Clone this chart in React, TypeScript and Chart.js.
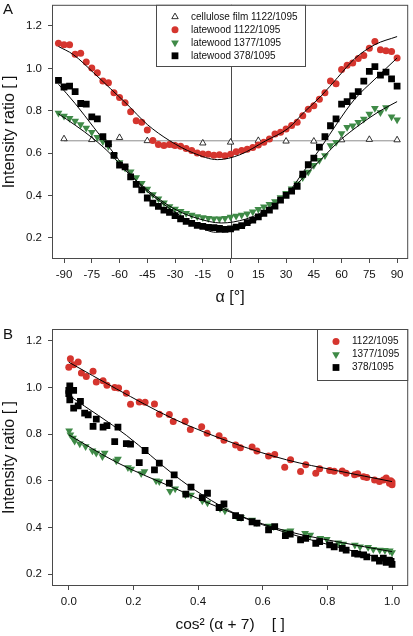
import React, { useEffect, useRef } from 'react';
import { Chart, registerables } from 'chart.js';

Chart.register(...registerables);

// ---------------- Panel A data ----------------
const ANGLES_A = [-93, -90, -87, -84, -81, -78, -75, -72, -69, -66, -63, -60, -57, -54, -51, -48, -45, -42, -39, -36, -33, -30, -27, -24, -21, -18, -15, -12, -9, -6, -3, 0, 3, 6, 9, 12, 15, 18, 21, 24, 27, 30, 33, 36, 39, 42, 45, 48, 51, 54, 57, 60, 63, 66, 69, 72, 75, 78, 81, 84, 87, 90];
const LW_1122_A = [1.119, 1.111, 1.111, 1.067, 1.071, 1.030, 1.002, 0.979, 0.940, 0.932, 0.885, 0.862, 0.838, 0.795, 0.753, 0.745, 0.709, 0.659, 0.641, 0.636, 0.641, 0.636, 0.632, 0.622, 0.612, 0.600, 0.596, 0.594, 0.590, 0.592, 0.588, 0.595, 0.606, 0.612, 0.618, 0.626, 0.638, 0.651, 0.667, 0.690, 0.698, 0.714, 0.730, 0.745, 0.776, 0.807, 0.823, 0.854, 0.885, 0.940, 0.927, 0.994, 1.015, 1.025, 1.046, 1.061, 1.095, 1.127, 1.088, 1.083, 1.080, 1.049];
const LW_1377_A = [0.789, 0.775, 0.765, 0.752, 0.735, 0.718, 0.698, 0.675, 0.655, 0.632, 0.590, 0.555, 0.530, 0.512, 0.485, 0.458, 0.430, 0.405, 0.385, 0.365, 0.348, 0.336, 0.326, 0.316, 0.308, 0.301, 0.296, 0.292, 0.290, 0.290, 0.292, 0.298, 0.303, 0.308, 0.314, 0.323, 0.335, 0.347, 0.358, 0.372, 0.390, 0.410, 0.432, 0.455, 0.485, 0.511, 0.543, 0.566, 0.589, 0.636, 0.651, 0.693, 0.722, 0.729, 0.745, 0.761, 0.784, 0.812, 0.792, 0.815, 0.771, 0.757];
const LW_378_A = [0.943, 0.912, 0.916, 0.890, 0.834, 0.831, 0.771, 0.761, 0.678, 0.644, 0.589, 0.543, 0.535, 0.488, 0.452, 0.426, 0.388, 0.364, 0.348, 0.331, 0.320, 0.305, 0.290, 0.278, 0.268, 0.259, 0.254, 0.249, 0.248, 0.244, 0.240, 0.242, 0.250, 0.258, 0.272, 0.284, 0.299, 0.316, 0.331, 0.350, 0.378, 0.400, 0.420, 0.443, 0.500, 0.545, 0.576, 0.628, 0.678, 0.729, 0.761, 0.831, 0.843, 0.870, 0.890, 0.940, 0.986, 1.008, 0.968, 0.982, 0.950, 0.916];
const CELL_ANGLES = [-90, -75, -60, -45, -30, -15, 0, 15, 30, 45, 60, 75, 90];
const CELL_1122 = [0.667, 0.663, 0.673, 0.658, 0.635, 0.647, 0.651, 0.659, 0.656, 0.656, 0.662, 0.664, 0.662];
const CELL_FIT_ANGLES = [-90, 90];
const CELL_FIT = [0.658, 0.658];
const FIT_1122_ANGLES = [-93, -85, -74, -65, -56, -45, -33, -20, -7, 5, 19, 31, 40, 49, 58, 67, 78, 90];
const FIT_1122_A = [1.103, 1.065, 0.979, 0.905, 0.831, 0.735, 0.659, 0.600, 0.569, 0.592, 0.658, 0.716, 0.795, 0.870, 0.958, 1.045, 1.112, 1.150];
const FIT_1377_ANGLES = [-93, -84, -74, -65, -56, -47, -38, -29, -18, -5, 8, 18, 27, 35, 42, 50, 59, 70, 80, 90];
const FIT_1377_A = [0.785, 0.732, 0.667, 0.597, 0.511, 0.441, 0.379, 0.330, 0.292, 0.270, 0.288, 0.325, 0.378, 0.445, 0.510, 0.580, 0.659, 0.735, 0.795, 0.843];
const FIT_378_ANGLES = [-93, -84, -74, -65, -56, -47, -38, -29, -18, -8, 5, 15, 24, 31, 40, 49, 58, 67, 78, 90];
const FIT_378_A = [0.925, 0.834, 0.722, 0.621, 0.519, 0.434, 0.371, 0.315, 0.258, 0.226, 0.245, 0.290, 0.350, 0.410, 0.520, 0.628, 0.746, 0.854, 0.949, 1.049];
const TICKS_A_X = [-90, -75, -60, -45, -30, -15, 0, 15, 30, 45, 60, 75, 90];
const TICKS_Y = [0.2, 0.4, 0.6, 0.8, 1.0, 1.2];

// ---------------- Panel B data ----------------
const B_1122_X = [0.000, 0.005, 0.015, 0.029, 0.039, 0.054, 0.075, 0.085, 0.106, 0.118, 0.142, 0.154, 0.178, 0.191, 0.218, 0.236, 0.265, 0.280, 0.311, 0.323, 0.360, 0.376, 0.411, 0.428, 0.465, 0.480, 0.516, 0.531, 0.567, 0.582, 0.618, 0.637, 0.668, 0.686, 0.717, 0.733, 0.764, 0.776, 0.807, 0.821, 0.846, 0.858, 0.884, 0.894, 0.912, 0.922, 0.946, 0.961, 0.973, 0.982, 0.992, 1.000, 1.000, 0.996];
const B_1122_Y = [1.086, 1.123, 1.097, 1.109, 1.062, 1.047, 1.069, 1.023, 1.029, 1.009, 1.000, 0.997, 0.975, 0.928, 0.938, 0.937, 0.929, 0.885, 0.884, 0.854, 0.855, 0.820, 0.832, 0.804, 0.793, 0.774, 0.754, 0.742, 0.745, 0.728, 0.706, 0.713, 0.658, 0.690, 0.640, 0.669, 0.633, 0.652, 0.644, 0.641, 0.642, 0.633, 0.626, 0.630, 0.618, 0.614, 0.604, 0.597, 0.604, 0.612, 0.590, 0.583, 0.595, 0.600];
const B_1377_X = [0.001, 0.005, 0.013, 0.018, 0.034, 0.052, 0.073, 0.085, 0.104, 0.111, 0.147, 0.152, 0.183, 0.193, 0.224, 0.234, 0.270, 0.280, 0.313, 0.329, 0.361, 0.378, 0.413, 0.429, 0.468, 0.483, 0.519, 0.533, 0.567, 0.582, 0.618, 0.634, 0.670, 0.686, 0.731, 0.747, 0.778, 0.798, 0.834, 0.849, 0.885, 0.901, 0.926, 0.942, 0.962, 0.978, 0.993, 1.000];
const B_1377_Y = [0.814, 0.797, 0.783, 0.771, 0.759, 0.747, 0.729, 0.719, 0.704, 0.719, 0.686, 0.694, 0.657, 0.651, 0.632, 0.640, 0.600, 0.597, 0.556, 0.566, 0.541, 0.540, 0.515, 0.506, 0.482, 0.472, 0.447, 0.443, 0.433, 0.422, 0.407, 0.405, 0.383, 0.386, 0.376, 0.368, 0.354, 0.350, 0.335, 0.330, 0.326, 0.318, 0.316, 0.307, 0.304, 0.303, 0.301, 0.293];
const B_378_X = [0.003, 0.000, 0.000, 0.003, 0.015, 0.015, 0.029, 0.036, 0.049, 0.060, 0.075, 0.085, 0.106, 0.118, 0.142, 0.152, 0.178, 0.191, 0.218, 0.236, 0.265, 0.280, 0.311, 0.326, 0.362, 0.378, 0.413, 0.429, 0.465, 0.480, 0.516, 0.531, 0.567, 0.582, 0.618, 0.637, 0.670, 0.685, 0.717, 0.733, 0.764, 0.776, 0.807, 0.821, 0.846, 0.858, 0.884, 0.894, 0.912, 0.922, 0.946, 0.961, 0.973, 0.982, 0.992, 1.000, 0.997];
const B_378_Y = [1.007, 0.987, 0.973, 0.947, 0.987, 0.911, 0.921, 0.940, 0.890, 0.883, 0.833, 0.864, 0.830, 0.836, 0.768, 0.830, 0.759, 0.757, 0.678, 0.730, 0.647, 0.676, 0.590, 0.626, 0.543, 0.573, 0.528, 0.547, 0.486, 0.501, 0.451, 0.443, 0.425, 0.419, 0.390, 0.404, 0.366, 0.372, 0.347, 0.354, 0.333, 0.340, 0.326, 0.318, 0.311, 0.304, 0.290, 0.286, 0.283, 0.275, 0.269, 0.257, 0.269, 0.251, 0.261, 0.243, 0.255];
const FIT_B_1122_X = [0, 0.147, 0.323, 0.516, 0.674, 0.828, 1.0];
const FIT_B_1122_Y = [1.108, 0.994, 0.866, 0.758, 0.690, 0.644, 0.597];
const FIT_B_1377_X = [0, 0.147, 0.323, 0.526, 0.674, 0.828, 1.0];
const FIT_B_1377_Y = [0.797, 0.680, 0.571, 0.452, 0.385, 0.340, 0.297];
const FIT_B_378_X = [0.005, 0.178, 0.326, 0.413, 0.526, 0.6, 0.685, 0.828, 1.0];
const FIT_B_378_Y = [0.961, 0.795, 0.625, 0.540, 0.452, 0.412, 0.373, 0.318, 0.258];
const TICKS_B_X = [0, 0.2, 0.4, 0.6, 0.8, 1.0];

// ---------------- styles ----------------
const FONT = "'Liberation Sans', Arial, sans-serif";
const RED = '#d5352e';
const GREEN = '#3f8a47';
const BLACK = '#000000';
const FRAME = '#4a4a4a';
const TEXT = '#111111';
const W = 413;
const H = 318;

const pts = (xs: number[], ys: number[]) => xs.map((x, i) => ({ x, y: ys[i] }));

function fitLine(xs: number[], ys: number[], color: string, order: number) {
  return {
    label: '_fit',
    data: pts(xs, ys),
    showLine: true,
    borderColor: color,
    borderWidth: 1,
    pointRadius: 0,
    cubicInterpolationMode: 'monotone',
    order,
  };
}

function markers(label: string, xs: number[], ys: number[], style: string, r: number, fill: string, order: number, rotation = 0, stroke = fill, bw = 0) {
  return {
    label,
    data: pts(xs, ys),
    pointStyle: style,
    pointRadius: r,
    pointRotation: rotation,
    pointBackgroundColor: fill,
    pointBorderColor: stroke,
    pointBorderWidth: bw,
    backgroundColor: fill,
    borderColor: stroke,
    order,
  };
}

function drawMarker(ctx: CanvasRenderingContext2D, ds: any, x: number, y: number) {
  const r = ds.pointRadius;
  ctx.beginPath();
  if (ds.pointStyle === 'circle') {
    ctx.arc(x, y, r, 0, Math.PI * 2);
  } else if (ds.pointStyle === 'rect') {
    const s = r * Math.SQRT1_2;
    ctx.rect(x - s, y - s, 2 * s, 2 * s);
  } else {
    let rad = (ds.pointRotation * Math.PI) / 180;
    ctx.moveTo(x + Math.sin(rad) * r, y - Math.cos(rad) * r);
    rad += (2 * Math.PI) / 3;
    ctx.lineTo(x + Math.sin(rad) * r, y - Math.cos(rad) * r);
    rad += (2 * Math.PI) / 3;
    ctx.lineTo(x + Math.sin(rad) * r, y - Math.cos(rad) * r);
    ctx.closePath();
  }
  ctx.fillStyle = ds.pointBackgroundColor;
  ctx.fill();
  if (ds.pointBorderWidth > 0) {
    ctx.lineWidth = ds.pointBorderWidth;
    ctx.strokeStyle = ds.pointBorderColor;
    ctx.stroke();
  }
}

interface OverlaySpec {
  letter: string;
  letterY: number;
  zeroLine: boolean;
  box: { left: number; right: number | null; bottom: number };
  markerDx: number;
  textDx: number;
  rowDy: number;
  rowStep: number;
  rows: { dataset: string; text: string }[];
}

function overlay(spec: OverlaySpec) {
  return {
    id: 'overlay',
    beforeDatasetsDraw(chart: any) {
      const { ctx, chartArea: a, scales } = chart;
      if (!spec.zeroLine) return;
      ctx.save();
      const x = Math.round(scales.x.getPixelForValue(0)) + 0.5;
      ctx.strokeStyle = FRAME;
      ctx.lineWidth = 1;
      ctx.beginPath();
      ctx.moveTo(x, a.top);
      ctx.lineTo(x, a.bottom);
      ctx.stroke();
      ctx.restore();
    },
    afterDatasetsDraw(chart: any) {
      const { ctx, chartArea: a } = chart;
      ctx.save();
      ctx.strokeStyle = FRAME;
      ctx.lineWidth = 1;
      ctx.strokeRect(a.left + 0.5, a.top + 0.5, a.right - a.left - 1, a.bottom - a.top - 1);
      const bl = spec.box.left + 0.5;
      const br = (spec.box.right === null ? a.right : spec.box.right) - 0.5;
      const bt = a.top + 0.5;
      const bb = spec.box.bottom + 0.5;
      ctx.fillStyle = '#ffffff';
      ctx.fillRect(bl, bt, br - bl, bb - bt);
      ctx.strokeRect(bl, bt, br - bl, bb - bt);
      ctx.font = `10px ${FONT}`;
      ctx.textBaseline = 'middle';
      ctx.textAlign = 'left';
      spec.rows.forEach((row, i) => {
        const ds = chart.data.datasets.find((d: any) => d.label === row.dataset);
        const y = a.top + spec.rowDy + i * spec.rowStep;
        if (ds) drawMarker(ctx, ds, spec.box.left + spec.markerDx, y);
        ctx.fillStyle = TEXT;
        ctx.fillText(row.text, spec.box.left + spec.textDx, y);
      });
      ctx.fillStyle = TEXT;
      ctx.font = `15px ${FONT}`;
      ctx.fillText(spec.letter, 3, spec.letterY);
      ctx.restore();
    },
  };
}

function xScale(min: number, max: number, ticks: number[], fmt: (v: number) => string, title: string, titleSize: number, titlePad: number, height: number) {
  return {
    type: 'linear',
    min,
    max,
    afterBuildTicks: (s: any) => {
      s.ticks = ticks.map((v) => ({ value: v }));
    },
    afterFit: (s: any) => {
      s.height = height;
      s.paddingLeft = 0;
      s.paddingRight = 0;
    },
    ticks: { callback: (v: any) => fmt(Number(v)), font: { family: FONT, size: 11.5 }, color: TEXT, padding: 5, maxRotation: 0, autoSkip: false },
    grid: { display: true, drawOnChartArea: false, drawTicks: true, tickLength: 4, color: FRAME },
    border: { display: false },
    title: { display: true, text: title, font: { family: FONT, size: titleSize }, color: TEXT, padding: { top: 0, bottom: titlePad } },
  };
}

function yScale(min: number, max: number) {
  return {
    type: 'linear',
    min,
    max,
    afterBuildTicks: (s: any) => {
      s.ticks = TICKS_Y.map((v) => ({ value: v }));
    },
    afterFit: (s: any) => {
      s.width = 52;
      s.paddingTop = 0;
      s.paddingBottom = 0;
    },
    ticks: { callback: (v: any) => Number(v).toFixed(1), font: { family: FONT, size: 11.5 }, color: TEXT, padding: 6, autoSkip: false },
    grid: { display: true, drawOnChartArea: false, drawTicks: true, tickLength: 4, color: FRAME },
    border: { display: false },
    title: { display: true, text: 'Intensity ratio [ ]', font: { family: FONT, size: 16 }, color: TEXT, padding: { top: 0, bottom: 0 } },
  };
}

function baseOptions(padTop: number, x: any, y: any) {
  return {
    responsive: false,
    maintainAspectRatio: false,
    animation: false,
    devicePixelRatio: 1,
    events: [],
    layout: { padding: { top: padTop, right: 4, bottom: 0, left: 0 } },
    plugins: { legend: { display: false }, tooltip: { enabled: false } },
    scales: { x, y },
  };
}

function configA(): any {
  return {
    type: 'scatter',
    data: {
      datasets: [
        fitLine(FIT_1122_ANGLES, FIT_1122_A, BLACK, 0),
        fitLine(FIT_1377_ANGLES, FIT_1377_A, BLACK, 1),
        fitLine(FIT_378_ANGLES, FIT_378_A, BLACK, 2),
        markers('lw378', ANGLES_A, LW_378_A, 'rect', 4.8, BLACK, 3),
        markers('lw1377', ANGLES_A, LW_1377_A, 'triangle', 4.5, GREEN, 4, 180),
        markers('lw1122', ANGLES_A, LW_1122_A, 'circle', 3.5, RED, 5),
        markers('cell', CELL_ANGLES, CELL_1122, 'triangle', 3.7, '#ffffff', 6, 0, BLACK, 0.8),
        { ...fitLine(CELL_FIT_ANGLES, CELL_FIT, '#8c8c8c', 7), cubicInterpolationMode: 'default' },
      ],
    },
    options: baseOptions(3, xScale(-96.5, 96, TICKS_A_X, (v) => String(v), 'α [°]', 16, 11, 59), yScale(0.1, 1.3)),
    plugins: [
      overlay({
        letter: 'A',
        letterY: 10,
        zeroLine: true,
        box: { left: 156, right: 306, bottom: 66 },
        markerDx: 19,
        textDx: 35,
        rowDy: 12,
        rowStep: 13,
        rows: [
          { dataset: 'cell', text: 'cellulose film 1122/1095' },
          { dataset: 'lw1122', text: 'latewood 1122/1095' },
          { dataset: 'lw1377', text: 'latewood 1377/1095' },
          { dataset: 'lw378', text: 'latewood 378/1095' },
        ],
      }),
    ],
  };
}

function configB(): any {
  return {
    type: 'scatter',
    data: {
      datasets: [
        fitLine(FIT_B_1122_X, FIT_B_1122_Y, BLACK, 0),
        fitLine(FIT_B_1377_X, FIT_B_1377_Y, BLACK, 1),
        fitLine(FIT_B_378_X, FIT_B_378_Y, BLACK, 2),
        markers('b378', B_378_X, B_378_Y, 'rect', 4.8, BLACK, 3),
        markers('b1377', B_1377_X, B_1377_Y, 'triangle', 4.5, GREEN, 4, 180),
        markers('b1122', B_1122_X, B_1122_Y, 'circle', 3.5, RED, 5),
      ],
    },
    options: baseOptions(11, xScale(-0.052, 1.05, TICKS_B_X, (v) => v.toFixed(1), 'cos² (α + 7)    [ ]', 15.5, 2, 50), yScale(0.15, 1.25)),
    plugins: [
      overlay({
        letter: 'B',
        letterY: 17,
        zeroLine: false,
        box: { left: 317, right: null, bottom: 62 },
        markerDx: 19,
        textDx: 35,
        rowDy: 12.5,
        rowStep: 13,
        rows: [
          { dataset: 'b1122', text: '1122/1095' },
          { dataset: 'b1377', text: '1377/1095' },
          { dataset: 'b378', text: '378/1095' },
        ],
      }),
    ],
  };
}

function Panel({ make }: { make: () => any }) {
  const ref = useRef<HTMLCanvasElement | null>(null);
  useEffect(() => {
    if (!ref.current) return;
    const chart = new Chart(ref.current, make());
    return () => chart.destroy();
  }, [make]);
  return <canvas ref={ref} width={W} height={H} style={{ display: 'block', width: W, height: H }} />;
}

export default function App() {
  return (
    <div style={{ position: 'absolute', left: 0, top: 0, width: W, height: 2 * H, background: '#ffffff' }}>
      <Panel make={configA} />
      <Panel make={configB} />
    </div>
  );
}
